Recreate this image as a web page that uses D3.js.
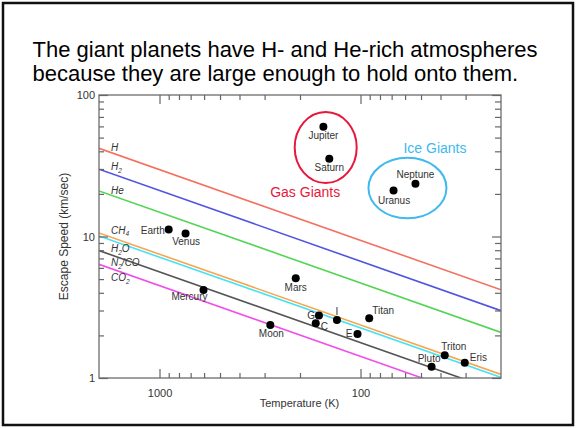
<!DOCTYPE html>
<html>
<head>
<meta charset="utf-8">
<script src="https://cdn.jsdelivr.net/npm/d3@7"></script>
<style>
  body { margin: 0; background: #fff; }
  svg { display: block; }
</style>
</head>
<body>
<svg id="chart" width="576" height="428"></svg>
<script>
// Headline
const titleLines = [
  "The giant planets have H- and He-rich atmospheres",
  "because they are large enough to hold onto them."
];

// Retention thresholds for each gas: escape speed (km/s) at 2000 K and at 20 K
const gasNames = ["H", "H2", "He", "CH4", "H2O", "N2/CO", "CO2"];
const gasSpeedAt2000 = [42.0, 29.9, 21.0, 10.6, 10.1, 7.95, 6.36];
const gasSpeedAt20 = [4.20, 2.99, 2.10, 1.06, 1.01, 0.795, 0.636];
const gasTempRange = [2000, 20];

// Bodies: temperature (K) and escape speed (km/s)
const planetNames = ["Jupiter", "Saturn", "Neptune", "Uranus", "Earth", "Venus", "Mercury",
  "Mars", "Moon", "G", "C", "I", "E", "Titan", "Pluto", "Triton", "Eris"];
const planetTemps = [153, 143, 53.3, 68.5, 900, 742, 604, 210, 281, 161, 167, 131, 103.5, 90.5, 44.3, 38.1, 30.3];
const planetSpeeds = [59.7, 35.5, 23.6, 21.1, 11.2, 10.5, 4.19, 5.07, 2.37, 2.77, 2.44, 2.57, 2.05, 2.64, 1.20, 1.45, 1.28];

// Groupings circled on the chart
const groupNames = ["Gas Giants", "Ice Giants"];
const groupTemps = [149, 58.4];
const groupSpeeds = [42.6, 22.0];

// Axis ticks
const xMajorTicks = [1000, 100];
const xMinorTicks = [900, 800, 700, 600, 500, 400, 300, 200, 90, 80, 70, 60, 50, 40, 30];
const yMajorTicks = [1, 10, 100];
const yMinorTicks = [2, 3, 4, 5, 6, 7, 8, 9, 20, 30, 40, 50, 60, 70, 80, 90];

const svg = d3.select("#chart");
const W = 576, H = 428;
const plot = { left: 99, right: 501, top: 95, bottom: 378 };

const x = d3.scaleLog().domain([2000, 20]).range([plot.left, plot.right]);
const y = d3.scaleLog().domain([1, 100]).range([plot.bottom, plot.top]);

const FONT = "'Liberation Sans', Arial, Helvetica, sans-serif";

// outer frame
svg.append("rect")
  .attr("x", 3).attr("y", 3).attr("width", W - 6).attr("height", H - 6)
  .attr("fill", "#fff").attr("stroke", "#111").attr("stroke-width", 2.5);

// headline
svg.append("g").selectAll("text").data(titleLines).join("text")
  .attr("x", 32.5).attr("y", (d, i) => 56.5 + i * 24.5)
  .attr("font-family", FONT).attr("font-size", 22).attr("fill", "#000")
  .text(d => d);

// clip region for the threshold lines
svg.append("defs").append("clipPath").attr("id", "plotClip")
  .append("rect")
  .attr("x", plot.left).attr("y", plot.top)
  .attr("width", plot.right - plot.left).attr("height", plot.bottom - plot.top);

const gasColors = ["#f4705f", "#5054e0", "#55d455", "#f6a650", "#48e2f2", "#555555", "#f050e8"];

const gasLines = gasNames.map((name, i) => ({
  name,
  color: gasColors[i],
  pts: [[gasTempRange[0], gasSpeedAt2000[i]], [gasTempRange[1], gasSpeedAt20[i]]]
}));

const line = d3.line().x(d => x(d[0])).y(d => y(d[1]));

svg.append("g").attr("clip-path", "url(#plotClip)")
  .selectAll("path").data(gasLines).join("path")
  .attr("d", d => line(d.pts))
  .attr("fill", "none")
  .attr("stroke", d => d.color)
  .attr("stroke-width", 1.6);

// gas labels with subscripts
const gasLabelParts = {
  "H": [["H", false]],
  "H2": [["H", false], ["2", true]],
  "He": [["He", false]],
  "CH4": [["CH", false], ["4", true]],
  "H2O": [["H", false], ["2", true], ["O", false]],
  "N2/CO": [["N", false], ["2", true], ["/CO", false]],
  "CO2": [["CO", false], ["2", true]]
};
const gasLabelDy = [-2, -3.4, -1.6, -3.2, 12.3, 11.6, 12.8];
const labelX = 111;
const SUB_SHIFT = 2.5;
gasLines.forEach((g, i) => {
  // y of the line at the label's x position (straight in log-log space)
  const t = x.invert(labelX);
  const frac = Math.log(gasTempRange[0] / t) / Math.log(gasTempRange[0] / gasTempRange[1]);
  const v = Math.exp(Math.log(g.pts[0][1]) + frac * (Math.log(g.pts[1][1]) - Math.log(g.pts[0][1])));
  const ty = y(v) + gasLabelDy[i];
  const txt = svg.append("text")
    .attr("x", labelX).attr("y", ty)
    .attr("font-family", FONT).attr("font-size", 10).attr("font-style", "italic")
    .attr("fill", "#333");
  let shifted = false;
  gasLabelParts[g.name].forEach(([s, sub]) => {
    const ts = txt.append("tspan").text(s);
    if (sub) { ts.attr("font-size", 6.5).attr("dy", SUB_SHIFT); shifted = true; }
    else if (shifted) { ts.attr("dy", -SUB_SHIFT); shifted = false; }
  });
});

// plot frame
svg.append("rect")
  .attr("x", plot.left).attr("y", plot.top)
  .attr("width", plot.right - plot.left).attr("height", plot.bottom - plot.top)
  .attr("fill", "none").attr("stroke", "#777").attr("stroke-width", 1.4);

// ticks: inward on all four sides
function styleAxis(g) {
  g.select(".domain").remove();
  g.selectAll(".tick line").attr("stroke", "#666").attr("stroke-width", 1.2);
  g.selectAll(".tick text").attr("font-family", FONT).attr("font-size", 11).attr("fill", "#333");
}
const fmt = d => d3.format("d")(d);

svg.append("g").attr("transform", `translate(0,${plot.bottom})`)
  .call(d3.axisBottom(x).tickValues(xMajorTicks).tickSize(-9).tickFormat(fmt))
  .call(styleAxis)
  .selectAll(".tick text").attr("dy", "1.1em").attr("y", 7);
svg.append("g").attr("transform", `translate(0,${plot.bottom})`)
  .call(d3.axisBottom(x).tickValues(xMinorTicks).tickSize(-5).tickFormat(""))
  .call(styleAxis);
svg.append("g").attr("transform", `translate(0,${plot.top})`)
  .call(d3.axisTop(x).tickValues(xMajorTicks).tickSize(-9).tickFormat(""))
  .call(styleAxis);
svg.append("g").attr("transform", `translate(0,${plot.top})`)
  .call(d3.axisTop(x).tickValues(xMinorTicks).tickSize(-5).tickFormat(""))
  .call(styleAxis);

svg.append("g").attr("transform", `translate(${plot.left},0)`)
  .call(d3.axisLeft(y).tickValues(yMajorTicks).tickSize(-9).tickFormat(fmt))
  .call(styleAxis)
  .selectAll(".tick text").attr("x", -4);
svg.append("g").attr("transform", `translate(${plot.left},0)`)
  .call(d3.axisLeft(y).tickValues(yMinorTicks).tickSize(-5).tickFormat(""))
  .call(styleAxis);
svg.append("g").attr("transform", `translate(${plot.right},0)`)
  .call(d3.axisRight(y).tickValues(yMajorTicks).tickSize(-9).tickFormat(""))
  .call(styleAxis);
svg.append("g").attr("transform", `translate(${plot.right},0)`)
  .call(d3.axisRight(y).tickValues(yMinorTicks).tickSize(-6).tickFormat(""))
  .call(styleAxis);

// axis titles
svg.append("text")
  .attr("x", (plot.left + plot.right) / 2 - 0.5).attr("y", 407)
  .attr("text-anchor", "middle")
  .attr("font-family", FONT).attr("font-size", 11).attr("fill", "#333")
  .text("Temperature (K)");
svg.append("text")
  .attr("transform", `translate(68,${(plot.top + plot.bottom) / 2}) rotate(-90)`)
  .attr("text-anchor", "middle")
  .attr("font-family", FONT).attr("font-size", 12).attr("fill", "#333")
  .text("Escape Speed (km/sec)");

// group ellipses and labels
const groupStyle = [
  { color: "#e8183c", rx: 31, ry: 35.5, lx: -20.5, ly: 49.5 },
  { color: "#40b9ee", rx: 39, ry: 30.3, lx: 27.5, ly: -35 }
];
const groups = svg.append("g");
groupNames.forEach((name, i) => {
  const cx = x(groupTemps[i]), cy = y(groupSpeeds[i]);
  const st = groupStyle[i];
  groups.append("ellipse")
    .attr("cx", cx).attr("cy", cy).attr("rx", st.rx).attr("ry", st.ry)
    .attr("fill", "none").attr("stroke", st.color).attr("stroke-width", 2);
  groups.append("text")
    .attr("x", cx + st.lx).attr("y", cy + st.ly)
    .attr("text-anchor", "middle")
    .attr("font-family", FONT).attr("font-size", 14).attr("fill", st.color)
    .text(name);
});

// body markers and their labels
const labelPlacement = {
  "Jupiter": ["middle", 0, 12.5],
  "Saturn": ["middle", 0, 12.5],
  "Neptune": ["middle", 0, -6],
  "Uranus": ["middle", 0.5, 13],
  "Earth": ["end", -4, 4],
  "Venus": ["middle", 0.5, 11.5],
  "Mercury": ["end", 4, 10],
  "Mars": ["middle", 0, 13],
  "Moon": ["middle", 1, 12],
  "G": ["end", -4, 3.5],
  "C": ["start", 5, 6.5],
  "I": ["middle", 0, -4.5],
  "E": ["end", -5, 3.5],
  "Titan": ["start", 3, -4],
  "Pluto": ["middle", -2.5, -5],
  "Triton": ["start", -3.5, -5],
  "Eris": ["start", 5, -2]
};
const bodies = planetNames.map((n, i) => ({ name: n, t: planetTemps[i], v: planetSpeeds[i] }));
const bg = svg.append("g");
bg.selectAll("circle").data(bodies).join("circle")
  .attr("cx", d => x(d.t)).attr("cy", d => y(d.v))
  .attr("r", 4).attr("fill", "#000");
bg.selectAll("text").data(bodies).join("text")
  .attr("x", d => x(d.t) + labelPlacement[d.name][1])
  .attr("y", d => y(d.v) + labelPlacement[d.name][2])
  .attr("text-anchor", d => labelPlacement[d.name][0])
  .attr("font-family", FONT).attr("font-size", 10).attr("fill", "#333")
  .text(d => d.name);
</script>
</body>
</html>
